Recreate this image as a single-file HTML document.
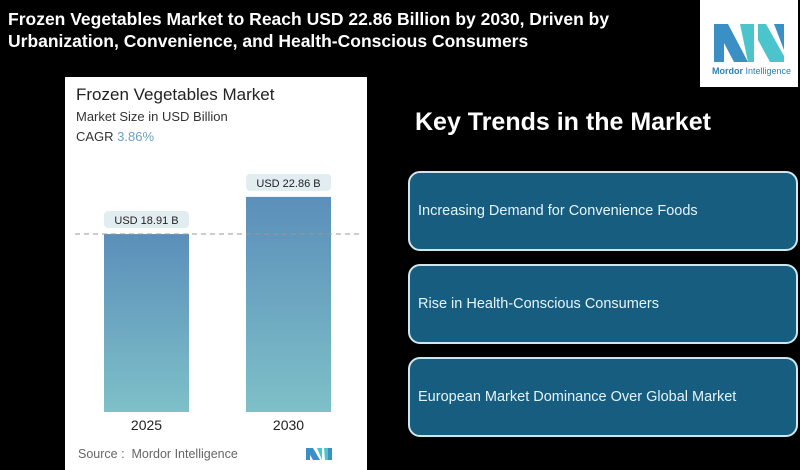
<!DOCTYPE html>
<html><head><meta charset="utf-8"><style>
body{margin:0;width:800px;height:470px;background:#000;position:relative;overflow:hidden;font-family:"Liberation Sans",sans-serif}
.abs{position:absolute}
.trend{position:absolute;left:408px;width:390px;height:80px;background:#175d80;border:2px solid #cfe6ef;border-radius:12px;box-sizing:border-box;color:#e4f4fa;font-size:14.5px;display:flex;align-items:center;padding-left:8px}
</style></head><body>
<div class="abs" style="left:8px;top:8px;color:#fff;font-weight:bold;font-size:17.5px;line-height:22px;width:690px">Frozen Vegetables Market to Reach USD 22.86 Billion by 2030, Driven by Urbanization, Convenience, and Health-Conscious Consumers</div>
<div class="abs" style="left:700px;top:0;width:98px;height:87px;background:#fff">
<svg width="98" height="62"><polygon points="14,24 28,24 48,62 34,62" fill="#3a8fc4"/><polygon points="14,24 24,24 24,62 14,62" fill="#3a8fc4"/><polygon points="40,24 54,24 54,62 48,62" fill="#4cc4cc"/><polygon points="58,24 66,24 84,56 84,62 70,62 58,40" fill="#4cc4cc"/><polygon points="74,24 84,24 84,50" fill="#3a8fc4"/></svg>
<div style="position:absolute;left:12px;top:66px;font-size:9px;color:#2f7fb0;white-space:nowrap"><b>Mordor</b> Intelligence</div></div>
<div class="abs" style="left:65px;top:77px;width:302px;height:393px;background:#fff"></div>
<div class="abs" style="left:76px;top:85px;font-size:17px;color:#222">Frozen Vegetables Market</div>
<div class="abs" style="left:76px;top:109px;font-size:13px;color:#333">Market Size in USD Billion</div>
<div class="abs" style="left:76px;top:129px;font-size:13px;color:#333">CAGR <span style="color:#6d9ec4">3.86%</span></div>
<svg class="abs" id="chart" style="left:0;top:0" width="400" height="470"></svg>
<div class="abs" style="left:78px;top:447px;font-size:12.5px;color:#666">Source :&nbsp; Mordor Intelligence</div>
<div class="abs" style="left:415px;top:108px;font-size:25px;font-weight:bold;color:#fff">Key Trends in the Market</div>
<div class="trend" style="top:171px">Increasing Demand for Convenience Foods</div>
<div class="trend" style="top:264px">Rise in Health-Conscious Consumers</div>
<div class="trend" style="top:357px">European Market Dominance Over Global Market</div>
<script>
const categories=["2025","2030"];
const values=[18.91,22.86];
const valueLabels=["USD 18.91 B","USD 22.86 B"];
const NS="http://www.w3.org/2000/svg";
const svg=document.getElementById("chart");
const y0=412,scale=9.41;
const yScale=v=>y0-v*scale;
const xScale=i=>104+i*142;
const bw=85;
const defs=document.createElementNS(NS,"defs");
defs.innerHTML='<linearGradient id="g" x1="0" y1="0" x2="0" y2="1"><stop offset="0" stop-color="#5b8fba"/><stop offset="1" stop-color="#7ec0c8"/></linearGradient>';
svg.appendChild(defs);
function mk(t,a){const e=document.createElementNS(NS,t);for(const k in a)e.setAttribute(k,a[k]);svg.appendChild(e);return e;}
values.forEach((v,i)=>{
 const x=xScale(i),top=yScale(v);
 const r=mk("rect",{x:x,y:top,width:bw,height:y0-top,fill:"url(#g)"});
 
 
 const lb=mk("rect",{x:x,y:top-23,width:bw,height:17,rx:4,fill:"#e1edf1"});
 
 
 const lt=mk("text",{x:x+bw/2,y:top-10,"text-anchor":"middle","font-size":"11","fill":"#222","font-family":"Liberation Sans"});
 lt.textContent=valueLabels[i];
 
 
 const ct=mk("text",{x:x+bw/2,y:y0+18,"text-anchor":"middle","font-size":"14","fill":"#222","font-family":"Liberation Sans"});
 ct.textContent=categories[i];
 
 
});
const dl=mk("line",{x1:75,x2:362,y1:yScale(values[0]),y2:yScale(values[0]),stroke:"#999","stroke-dasharray":"5,4","stroke-width":1});


const sl=mk("g",{});


sl.innerHTML='<polygon points="306,448 313,448 320,460 313,460" fill="#3a8fc4"/><polygon points="306,448 310,448 310,460 306,460" fill="#3a8fc4"/><polygon points="317,448 322,448 322,460" fill="#4cc4cc"/><polygon points="324,448 328,448 330,460 325,460" fill="#4cc4cc"/><rect x="328" y="448" width="4" height="12" fill="#3a8fc4"/>';
</script>
</body></html>
